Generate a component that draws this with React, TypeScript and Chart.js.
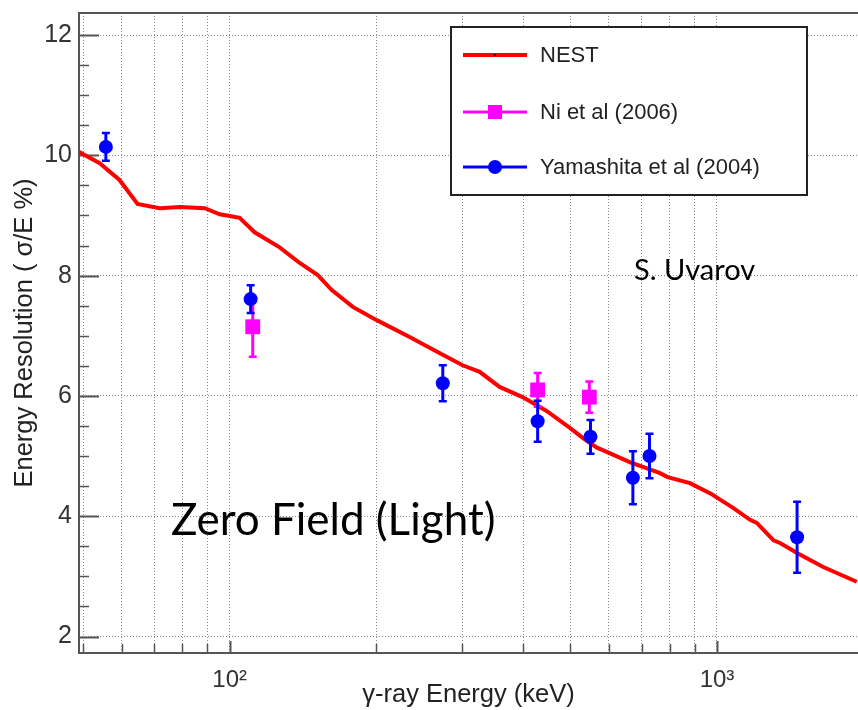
import React, { useEffect, useRef } from 'react';
import { Chart, registerables } from 'chart.js';

Chart.register(...registerables);

// NEST curve (keV, sigma/E %)
const nestEnergy = [49, 54.1, 59.4, 64.7, 71.8, 79, 88.9, 95.4, 100, 104.8, 112.5, 126.6, 139.2, 151.6, 162, 178.9, 200.3, 234, 270, 300.5, 325.8, 358, 399, 447, 499, 531, 567, 583, 662, 762, 792, 880, 978, 1000, 1079, 1169, 1207, 1306, 1350, 1460, 1648, 1935];
const nestRes = [10.06, 9.87, 9.59, 9.19, 9.12, 9.14, 9.12, 9.02, 8.99, 8.96, 8.72, 8.47, 8.21, 8.01, 7.76, 7.48, 7.26, 6.98, 6.71, 6.51, 6.40, 6.15, 5.98, 5.75, 5.47, 5.30, 5.14, 5.10, 4.90, 4.72, 4.65, 4.55, 4.36, 4.31, 4.14, 3.94, 3.89, 3.60, 3.55, 3.39, 3.16, 2.91];

// Ni et al (2006)
const niEnergy = [111.5, 428.5, 547];
const niRes = [7.15, 6.10, 5.98];
const niErr = [0.5, 0.28, 0.26];

// Yamashita et al (2004)
const yamEnergy = [55.7, 110.4, 273.7, 428.5, 550, 672, 727, 1460];
const yamRes = [10.14, 7.61, 6.21, 5.58, 5.32, 4.64, 5.0, 3.65];
const yamErr = [0.23, 0.23, 0.3, 0.34, 0.28, 0.44, 0.37, 0.59];

// Axes
const xMin = 49.06;
const xMax = 1947;
const yMin = 1.726;
const yMax = 12.366;
const xTickValues = [50, 60, 70, 80, 90, 100, 200, 300, 400, 500, 600, 700, 800, 900, 1000];
const xMajorValues = [100, 1000];
const xMajorLabels = ['10²', '10³'];
const yTickValues = [2, 4, 6, 8, 10, 12];
const yMinorStep = 0.5;

const seriesLabels = ['NEST', 'Ni et al (2006)', 'Yamashita et al (2004)'];
const seriesColors = ['#ff0000', '#ff00ff', '#0000ff'];
const xTitle = 'γ-ray Energy (keV)';
const yTitle = 'Energy Resolution ( σ/E %)';
const noteMain = 'Zero Field (Light)';
const noteAuthor = 'S. Uvarov';

const SANS = "'Liberation Sans', Arial, Helvetica, sans-serif";

function drawErrorBars(ctx: CanvasRenderingContext2D, chart: any, xs: number[], ys: number[], es: number[], color: string) {
  const xs_ = chart.scales.x;
  const ys_ = chart.scales.y;
  ctx.save();
  ctx.strokeStyle = color;
  for (let i = 0; i < xs.length; i++) {
    const px = xs_.getPixelForValue(xs[i]);
    const top = ys_.getPixelForValue(ys[i] + es[i]);
    const bot = ys_.getPixelForValue(ys[i] - es[i]);
    ctx.lineWidth = 3;
    ctx.beginPath();
    ctx.moveTo(px, top);
    ctx.lineTo(px, bot);
    ctx.stroke();
    ctx.lineWidth = 2.5;
    ctx.beginPath();
    ctx.moveTo(px - 4, top);
    ctx.lineTo(px + 4, top);
    ctx.moveTo(px - 4, bot);
    ctx.lineTo(px + 4, bot);
    ctx.stroke();
  }
  ctx.restore();
}

const decorPlugin = {
  id: 'decor',
  beforeDatasetsDraw(chart: any) {
    const { ctx, chartArea } = chart;
    const { left, right, top, bottom } = chartArea;
    const xs = chart.scales.x;
    const ys = chart.scales.y;
    ctx.save();
    ctx.strokeStyle = '#555';
    ctx.lineWidth = 2;
    // frame
    ctx.beginPath();
    ctx.moveTo(right + 2, top);
    ctx.lineTo(left, top);
    ctx.lineTo(left, bottom);
    ctx.lineTo(right + 2, bottom);
    ctx.stroke();
    // y ticks inside
    for (let v = Math.ceil(yMin / yMinorStep) * yMinorStep; v <= yMax; v += yMinorStep) {
      const py = Math.round(ys.getPixelForValue(v)) + 0.5;
      const major = yTickValues.includes(v);
      ctx.lineWidth = major ? 2 : 1.5;
      ctx.beginPath();
      ctx.moveTo(left, py);
      ctx.lineTo(left + (major ? 20 : 10), py);
      ctx.stroke();
    }
    // x ticks inside
    for (const v of xTickValues) {
      const px = Math.round(xs.getPixelForValue(v)) + 0.5;
      const major = xMajorValues.includes(v);
      ctx.lineWidth = major ? 2 : 1.5;
      ctx.beginPath();
      ctx.moveTo(px, bottom);
      ctx.lineTo(px, bottom - (major ? 12 : 9));
      ctx.stroke();
    }
    ctx.restore();
  },
  afterDatasetDraw(chart: any, args: any) {
    if (args.index !== 0) return;
    const ctx = chart.ctx;
    drawErrorBars(ctx, chart, niEnergy, niRes, niErr, seriesColors[1]);
    drawErrorBars(ctx, chart, yamEnergy, yamRes, yamErr, seriesColors[2]);
  },
  afterDraw(chart: any) {
    const ctx = chart.ctx;
    ctx.save();
    // legend box
    const bx = 451, by = 27, bw = 356, bh = 168;
    ctx.fillStyle = '#ffffff';
    ctx.fillRect(bx, by, bw, bh);
    ctx.strokeStyle = '#222';
    ctx.lineWidth = 2;
    ctx.strokeRect(bx, by, bw, bh);
    const rows = [55, 112, 167];
    for (let i = 0; i < seriesLabels.length; i++) {
      const y = rows[i];
      ctx.strokeStyle = seriesColors[i];
      ctx.lineWidth = i === 0 ? 4 : 3;
      ctx.beginPath();
      ctx.moveTo(463, y);
      ctx.lineTo(527, y);
      ctx.stroke();
      if (i === 0) {
        ctx.fillStyle = '#000';
        ctx.fillRect(494, y - 1, 2, 2);
      } else if (i === 1) {
        ctx.fillStyle = seriesColors[i];
        ctx.fillRect(488, y - 7, 14, 14);
      } else {
        ctx.fillStyle = seriesColors[i];
        ctx.beginPath();
        ctx.arc(495, y, 7, 0, Math.PI * 2);
        ctx.fill();
      }
      ctx.fillStyle = '#222';
      ctx.font = `22px ${SANS}`;
      ctx.textAlign = 'left';
      ctx.textBaseline = 'middle';
      ctx.fillText(seriesLabels[i], 540, y + 1);
    }
    // annotations
    ctx.fillStyle = '#000';
    ctx.textBaseline = 'alphabetic';
    ctx.font = "44px Lato, 'Open Sans', sans-serif";
    ctx.fillText(noteMain, 171, 535);
    ctx.font = "29px Lato, 'Open Sans', sans-serif";
    ctx.fillText(noteAuthor, 634, 280);
    ctx.restore();
  },
};

export default function App() {
  const ref = useRef<HTMLCanvasElement | null>(null);
  useEffect(() => {
    if (!ref.current) return;
    const chart = new Chart(ref.current, {
      type: 'scatter',
      data: {
        datasets: [
          {
            type: 'line',
            label: seriesLabels[0],
            data: nestEnergy.map((x, i) => ({ x, y: nestRes[i] })),
            borderColor: seriesColors[0],
            backgroundColor: seriesColors[0],
            borderWidth: 4,
            pointRadius: 0,
            tension: 0,
            fill: false,
            order: 3,
          },
          {
            type: 'scatter',
            label: seriesLabels[1],
            data: niEnergy.map((x, i) => ({ x, y: niRes[i] })),
            pointStyle: 'rect',
            pointRadius: 10.5,
            backgroundColor: seriesColors[1],
            borderColor: seriesColors[1],
            borderWidth: 0,
            order: 2,
          },
          {
            type: 'scatter',
            label: seriesLabels[2],
            data: yamEnergy.map((x, i) => ({ x, y: yamRes[i] })),
            pointStyle: 'circle',
            pointRadius: 7,
            backgroundColor: seriesColors[2],
            borderColor: seriesColors[2],
            borderWidth: 0,
            order: 1,
          },
        ] as any,
      },
      options: {
        animation: false,
        responsive: false,
        maintainAspectRatio: false,
        layout: { autoPadding: false, padding: { top: 13, left: 0, right: 0, bottom: 0 } },
        plugins: { legend: { display: false }, tooltip: { enabled: false } },
        scales: {
          x: {
            type: 'logarithmic',
            min: xMin,
            max: xMax,
            afterBuildTicks: (s: any) => {
              s.ticks = xTickValues.map((v) => ({ value: v }));
            },
            afterFit: (s: any) => {
              s.height = 57;
              s.paddingLeft = 0;
              s.paddingRight = 0;
            },
            grid: { color: '#8c8c8c', lineWidth: 1, drawTicks: false },
            border: { display: false, dash: [1, 2] },
            ticks: {
              autoSkip: false,
              maxRotation: 0,
              minRotation: 0,
              padding: 13,
              color: '#333',
              font: { family: SANS, size: 24 },
              callback: (v: any) => {
                const k = xMajorValues.indexOf(Number(v));
                return k >= 0 ? xMajorLabels[k] : '';
              },
            },
            title: {
              display: true,
              text: xTitle,
              color: '#222',
              font: { family: SANS, size: 25.5 },
              padding: { top: 0, bottom: 0 },
            },
          },
          y: {
            type: 'linear',
            min: yMin,
            max: yMax,
            afterBuildTicks: (s: any) => {
              s.ticks = yTickValues.map((v) => ({ value: v }));
            },
            afterFit: (s: any) => {
              s.width = 79;
              s.paddingTop = 0;
              s.paddingBottom = 0;
            },
            grid: { color: '#8c8c8c', lineWidth: 1, drawTicks: false },
            border: { display: false, dash: [1, 2] },
            ticks: {
              padding: 7,
              color: '#333',
              font: { family: SANS, size: 25 },
            },
            title: {
              display: true,
              text: yTitle,
              color: '#222',
              font: { family: SANS, size: 25.5 },
              padding: { top: 10, bottom: 0 },
            },
          },
        },
      } as any,
      plugins: [decorPlugin],
    });
    return () => chart.destroy();
  }, []);
  return (
    <div style={{ position: 'absolute', left: 0, top: 0, width: 858, height: 710, background: '#fff' }}>
      <canvas ref={ref} width={858} height={710} style={{ display: 'block' }} />
    </div>
  );
}
